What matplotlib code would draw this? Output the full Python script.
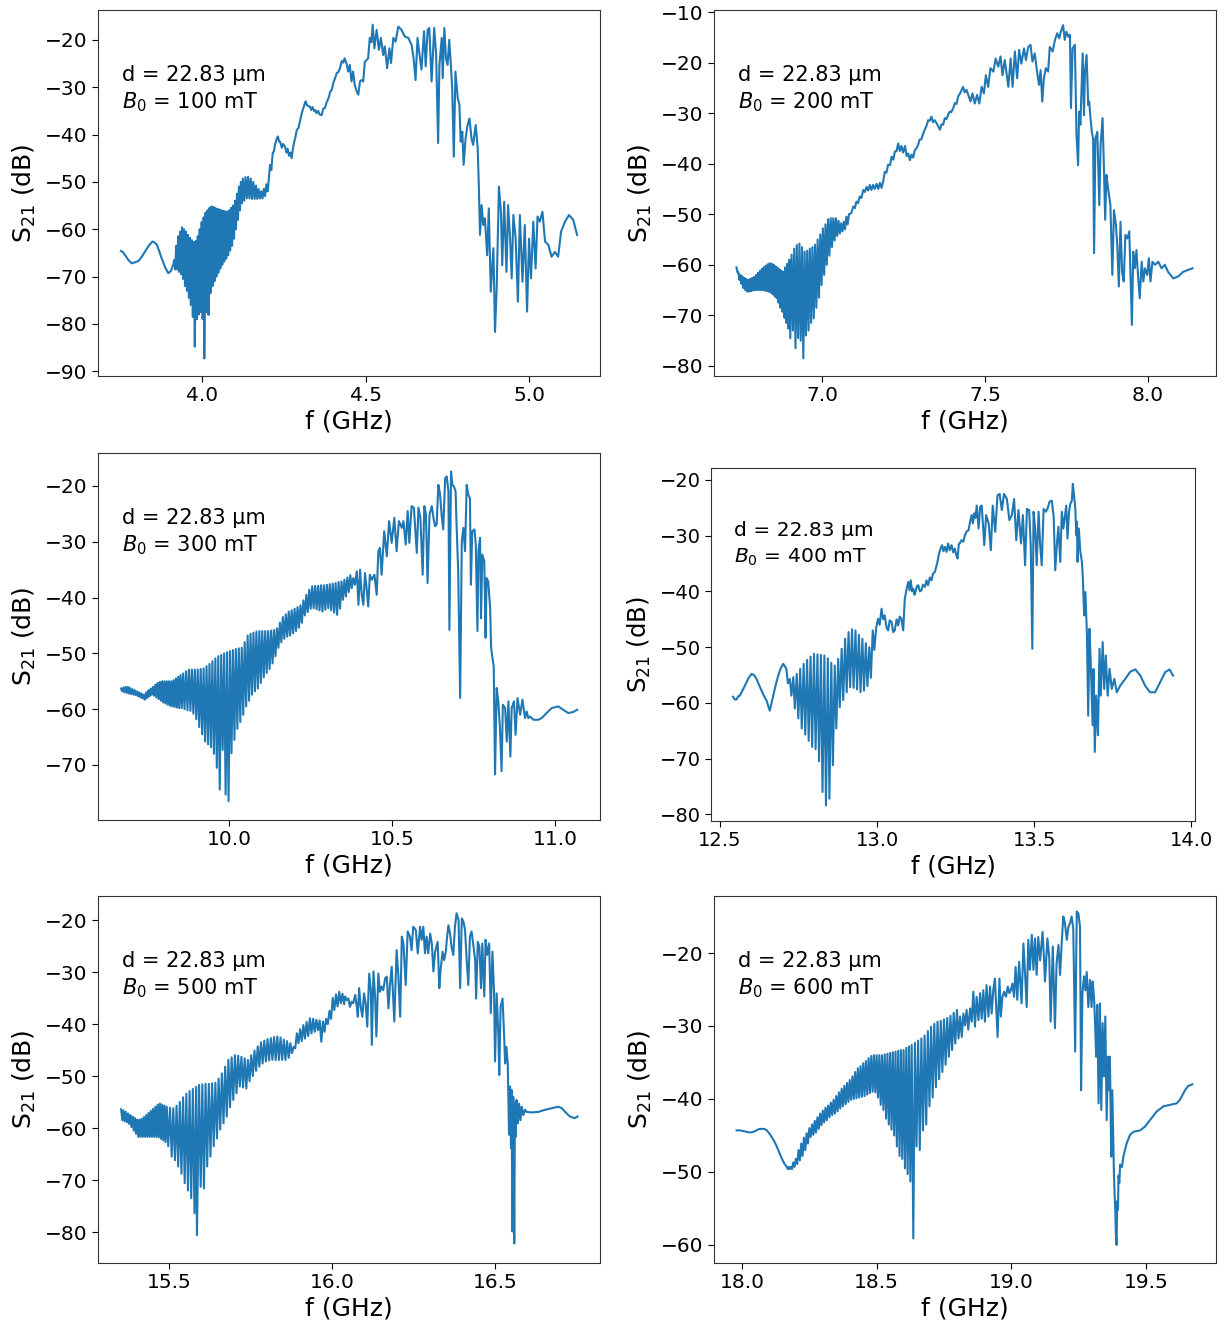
import matplotlib
matplotlib.use("Agg")
import matplotlib.pyplot as plt

# ---------------- data ----------------
fields_mT = [100, 200, 300, 400, 500, 600]
thickness_label = "d = 22.83 μm"

trace_100 = [
(3.752,-64.6),(3.758,-64.8),(3.765,-65.5),(3.775,-66.5),(3.785,-67.2),(3.795,-67.0),(3.806,-66.7),(3.816,-65.8),
(3.826,-64.7),(3.837,-63.5),(3.848,-62.6),(3.855,-62.8),(3.862,-63.3),(3.870,-64.8),(3.877,-66.2),(3.887,-68.0),
(3.897,-69.3),(3.905,-68.8),(3.912,-67.5),
(3.915,-66.5),(3.918,-68.5),(3.921,-63.5),(3.924,-68.5),(3.927,-61.5),(3.930,-69.0),(3.933,-60.5),(3.936,-69.5),
(3.939,-59.6),(3.942,-70.5),(3.945,-60.0),(3.948,-72.0),(3.951,-60.5),(3.954,-73.0),(3.957,-61.2),(3.960,-74.5),
(3.963,-61.8),(3.966,-76.0),(3.969,-62.3),(3.972,-78.5),(3.975,-62.7),(3.978,-84.8),(3.981,-62.5),(3.984,-79.0),
(3.987,-61.5),(3.990,-78.0),(3.993,-60.0),(3.996,-77.5),(3.999,-58.5),(4.002,-79.0),(4.005,-57.5),(4.007,-87.3),
(4.011,-56.5),(4.014,-77.5),(4.017,-56.0),(4.020,-78.1),(4.023,-55.5),(4.026,-73.5),(4.029,-55.2),(4.032,-72.0),
(4.035,-55.3),(4.038,-71.0),(4.041,-55.5),(4.044,-70.0),(4.047,-55.7),(4.050,-69.2),(4.053,-55.8),(4.056,-68.3),
(4.059,-56.0),(4.062,-67.5),(4.065,-56.1),(4.068,-66.8),(4.071,-56.2),(4.074,-66.2),(4.077,-56.3),(4.080,-65.5),
(4.083,-56.0),(4.086,-64.5),(4.089,-55.5),(4.092,-63.5),(4.095,-55.0),(4.098,-62.0),(4.101,-54.0),(4.104,-60.0),
(4.107,-52.5),(4.110,-58.0),(4.113,-51.0),(4.116,-56.0),(4.119,-50.0),(4.122,-54.5),
(4.125,-49.3),(4.129,-54.0),(4.133,-49.0),(4.137,-53.5),(4.141,-48.9),(4.145,-53.5),(4.149,-49.3),(4.153,-53.6),
(4.157,-50.0),(4.161,-53.6),(4.165,-50.8),(4.169,-53.6),(4.173,-51.5),(4.177,-53.5),(4.181,-52.0),(4.185,-53.5),
(4.189,-51.5),(4.193,-53.0),(4.197,-50.5),(4.201,-52.0),
(4.208,-46.4),(4.212,-47.5),(4.216,-44.0),(4.220,-43.5),(4.223,-42.2),(4.228,-41.0),(4.232,-40.4),(4.236,-41.5),
(4.239,-41.5),(4.244,-42.8),(4.248,-42.0),(4.254,-42.6),(4.258,-43.8),(4.262,-43.0),(4.266,-44.5),(4.270,-43.8),
(4.274,-45.0),(4.278,-43.0),(4.282,-41.5),(4.285,-40.8),(4.290,-39.0),(4.295,-38.6),(4.300,-37.0),(4.305,-35.5),
(4.310,-34.4),(4.314,-33.5),(4.317,-33.0),(4.321,-33.8),(4.325,-34.0),(4.330,-34.1),(4.334,-34.8),(4.338,-34.2),
(4.342,-35.0),(4.346,-34.8),(4.350,-35.5),(4.355,-35.0),(4.360,-35.8),(4.366,-35.9),(4.371,-34.5),(4.376,-34.4),
(4.381,-33.2),(4.387,-32.3),(4.392,-31.0),(4.397,-30.5),(4.402,-29.0),(4.407,-28.1),(4.412,-27.0),(4.417,-26.8),
(4.422,-26.0),(4.427,-24.5),(4.432,-24.8),(4.436,-23.9),
(4.442,-25.0),(4.447,-26.7),(4.452,-25.3),(4.457,-28.8),(4.462,-26.7),(4.467,-29.5),(4.473,-30.9),(4.478,-31.6),
(4.483,-28.8),(4.488,-28.5),(4.493,-28.8),(4.498,-24.6),(4.503,-24.3),(4.508,-23.9),(4.513,-19.6),(4.518,-20.5),
(4.522,-16.8),(4.527,-21.8),(4.534,-17.9),(4.541,-22.1),(4.547,-19.6),(4.554,-23.2),(4.559,-21.4),(4.566,-26.0),
(4.573,-21.8),(4.578,-24.9),(4.585,-19.6),(4.592,-20.4),(4.600,-17.2),(4.610,-17.9),(4.620,-19.3),(4.631,-19.6),
(4.641,-21.1),(4.647,-23.9),(4.653,-28.5),(4.659,-19.6),(4.664,-22.5),(4.671,-26.3),(4.679,-18.2),(4.684,-25.6),
(4.690,-17.9),(4.695,-17.5),(4.702,-28.8),(4.710,-17.5),(4.716,-23.2),(4.722,-41.8),(4.726,-25.3),(4.733,-19.6),
(4.736,-28.1),(4.741,-17.5),(4.746,-23.9),(4.751,-25.3),(4.756,-20.0),(4.761,-25.3),(4.765,-30.2),(4.770,-44.7),
(4.775,-26.7),(4.782,-32.3),(4.787,-33.7),(4.791,-41.5),(4.796,-39.4),(4.800,-46.4),(4.806,-40.8),(4.812,-38.0),
(4.818,-36.6),(4.824,-40.8),(4.829,-42.2),(4.837,-38.0),(4.843,-42.9),(4.847,-52.1),(4.850,-61.2),(4.855,-54.9),
(4.860,-59.1),(4.865,-57.7),(4.872,-65.5),(4.877,-55.6),(4.883,-73.2),(4.891,-64.0),(4.896,-81.7),(4.901,-72.5),
(4.908,-51.0),(4.914,-56.3),(4.918,-67.6),(4.924,-54.2),(4.931,-69.0),(4.936,-54.9),(4.942,-61.9),(4.947,-70.4),
(4.952,-57.0),(4.959,-61.9),(4.966,-75.3),(4.972,-57.0),(4.980,-71.1),(4.987,-59.1),(4.994,-77.4),(5.000,-62.0),
(5.006,-70.4),(5.013,-58.4),(5.020,-68.3),(5.026,-57.3),(5.033,-58.4),(5.041,-56.3),(5.049,-62.6),(5.059,-63.3),
(5.069,-65.8),(5.079,-64.8),(5.089,-65.8),(5.098,-60.5),(5.110,-58.4),(5.122,-57.0),(5.135,-58.0),(5.147,-61.2),
]

trace_200 = [
(6.738,-60.5),(6.741,-61.5),(6.744,-61.5),(6.747,-63.0),(6.750,-62.0),(6.753,-63.8),(6.756,-62.3),(6.759,-64.6),
(6.762,-62.6),(6.765,-65.0),(6.768,-62.8),(6.771,-65.3),(6.774,-63.0),(6.777,-65.3),(6.780,-62.8),(6.783,-65.2),
(6.786,-62.6),(6.789,-65.1),(6.792,-62.4),(6.795,-65.0),(6.798,-62.0),(6.801,-65.0),(6.804,-61.6),(6.807,-65.0),
(6.810,-61.2),(6.813,-65.0),(6.816,-60.8),(6.819,-65.0),(6.822,-60.5),(6.825,-65.1),(6.828,-60.2),(6.831,-65.2),
(6.834,-59.9),(6.837,-65.3),(6.840,-59.7),(6.843,-65.5),(6.846,-59.8),(6.849,-65.8),(6.852,-60.0),(6.855,-66.2),
(6.858,-60.3),(6.861,-66.6),(6.864,-60.6),(6.867,-67.5),(6.870,-60.9),(6.873,-68.5),(6.876,-61.2),(6.879,-69.3),
(6.882,-61.4),(6.885,-70.5),(6.888,-60.5),(6.891,-71.5),(6.894,-59.8),(6.897,-72.6),(6.900,-59.0),(6.903,-74.5),
(6.907,-58.0),(6.911,-73.0),(6.915,-56.8),(6.919,-76.5),(6.923,-56.1),(6.927,-74.5),(6.931,-55.8),(6.935,-75.0),
(6.939,-56.5),(6.943,-78.5),(6.947,-57.4),(6.951,-74.0),(6.955,-57.2),(6.959,-73.0),(6.963,-56.8),(6.967,-71.5),
(6.971,-56.5),(6.975,-70.6),(6.979,-56.0),(6.983,-68.5),(6.987,-55.0),(6.991,-66.5),(6.995,-54.0),(6.999,-64.0),
(7.003,-52.8),(7.007,-62.0),(7.011,-52.0),(7.015,-60.0),(7.019,-51.0),(7.023,-58.2),(7.027,-50.8),(7.031,-56.5),
(7.035,-50.8),(7.039,-55.2),(7.043,-50.8),(7.047,-54.3),(7.051,-51.3),(7.055,-53.8),(7.059,-51.8),(7.063,-53.4),
(7.067,-51.5),(7.071,-53.0),(7.075,-50.5),(7.079,-52.0),(7.083,-50.0),
(7.090,-49.8),(7.096,-48.5),(7.101,-48.8),(7.106,-47.5),(7.111,-47.8),(7.116,-46.5),(7.121,-46.8),(7.127,-45.2),
(7.132,-45.6),(7.137,-44.6),(7.142,-45.3),(7.147,-44.2),(7.152,-45.2),(7.157,-44.2),(7.162,-45.0),(7.168,-44.0),
(7.173,-45.0),(7.178,-43.8),(7.183,-44.8),(7.188,-43.5),(7.193,-41.6),(7.198,-41.8),(7.203,-40.2),(7.209,-40.3),
(7.214,-38.6),(7.219,-39.2),(7.224,-37.6),(7.229,-37.5),(7.234,-36.0),(7.239,-37.5),(7.244,-36.5),(7.249,-37.8),
(7.255,-36.5),(7.260,-38.5),(7.265,-38.0),(7.270,-39.3),(7.275,-38.2),(7.280,-38.8),(7.285,-37.3),(7.290,-37.0),
(7.295,-36.3),(7.300,-35.2),(7.305,-35.2),(7.311,-34.0),(7.316,-33.2),(7.321,-32.5),(7.326,-31.4),(7.331,-31.5),
(7.336,-30.7),(7.341,-31.8),(7.346,-31.4),(7.352,-32.0),(7.357,-32.6),(7.362,-33.3),(7.367,-32.2),(7.372,-32.3),
(7.377,-31.0),(7.382,-31.2),(7.387,-30.4),(7.392,-29.7),(7.397,-29.8),(7.403,-29.0),(7.408,-28.0),(7.413,-28.2),
(7.418,-26.7),(7.423,-26.2),(7.428,-25.5),(7.433,-24.8),(7.438,-25.9),(7.444,-25.4),(7.449,-26.4),(7.456,-27.7),
(7.462,-26.1),(7.469,-28.1),(7.476,-26.4),(7.483,-28.1),(7.490,-24.8),(7.497,-26.1),(7.503,-22.5),(7.510,-24.8),
(7.517,-21.1),(7.526,-21.8),(7.533,-19.2),(7.541,-20.8),(7.548,-18.8),(7.554,-22.5),(7.561,-19.5),(7.572,-24.8),
(7.579,-19.2),(7.585,-24.8),(7.592,-17.8),(7.599,-23.1),(7.605,-17.5),(7.612,-20.2),(7.620,-17.2),(7.626,-19.5),
(7.633,-16.9),(7.640,-16.5),(7.646,-19.8),(7.653,-18.2),(7.660,-21.8),(7.666,-24.4),(7.671,-21.5),(7.676,-27.7),
(7.681,-23.1),(7.687,-21.1),(7.694,-21.8),(7.699,-16.9),(7.708,-17.8),(7.715,-15.5),(7.722,-14.2),(7.728,-15.2),
(7.733,-13.9),(7.740,-12.6),(7.745,-15.5),(7.750,-13.9),(7.756,-14.9),(7.761,-14.5),(7.764,-29.0),(7.769,-17.2),
(7.776,-16.5),(7.781,-34.3),(7.786,-40.3),(7.789,-29.7),(7.793,-32.3),(7.800,-18.2),(7.804,-30.4),(7.807,-21.8),
(7.812,-18.5),(7.817,-28.4),(7.820,-27.7),(7.824,-31.0),(7.828,-33.7),(7.832,-35.0),(7.835,-57.7),(7.839,-35.0),
(7.845,-33.7),(7.851,-48.2),(7.855,-36.3),(7.861,-31.0),(7.865,-40.3),(7.869,-51.1),(7.873,-42.2),(7.878,-44.9),
(7.885,-48.2),(7.891,-62.0),(7.896,-49.2),(7.902,-52.1),(7.906,-56.1),(7.911,-64.3),(7.916,-51.5),(7.921,-61.4),
(7.926,-63.3),(7.931,-54.1),(7.937,-54.8),(7.943,-53.4),(7.947,-62.7),(7.951,-71.9),(7.955,-57.4),(7.960,-60.7),
(7.965,-57.1),(7.970,-62.3),(7.975,-66.6),(7.981,-59.4),(7.986,-63.3),(7.991,-60.7),(7.998,-62.0),(8.003,-58.7),
(8.008,-63.3),(8.014,-59.4),(8.022,-60.0),(8.032,-59.4),(8.042,-60.7),(8.052,-60.0),(8.062,-61.4),(8.078,-62.7),
(8.093,-62.3),(8.108,-61.4),(8.124,-61.0),(8.137,-60.7),
]

trace_300 = [
(9.669,-56.3),(9.672,-56.8),(9.676,-56.1),(9.679,-57.0),(9.683,-56.0),(9.686,-57.1),(9.690,-56.0),(9.693,-57.2),
(9.697,-56.2),(9.700,-57.3),(9.704,-56.4),(9.707,-57.4),(9.711,-56.6),(9.714,-57.5),(9.718,-56.8),(9.721,-57.7),
(9.725,-57.0),(9.728,-57.9),(9.732,-57.2),(9.735,-58.1),(9.739,-57.4),(9.742,-58.3),(9.746,-57.0),(9.749,-58.0),
(9.753,-56.6),(9.756,-57.7),(9.760,-56.3),(9.763,-57.4),(9.767,-56.0),(9.770,-57.6),(9.774,-55.6),(9.777,-57.9),
(9.781,-55.3),(9.784,-58.2),(9.788,-55.1),(9.791,-58.5),(9.795,-55.0),(9.798,-58.8),(9.802,-55.0),(9.805,-59.0),
(9.809,-55.0),(9.812,-59.2),(9.816,-55.0),(9.819,-59.4),(9.823,-55.0),(9.826,-59.5),(9.830,-54.8),(9.833,-59.6),
(9.837,-54.5),(9.840,-59.7),(9.844,-54.2),(9.847,-59.8),(9.851,-53.9),(9.855,-59.8),
(9.859,-53.6),(9.8635,-60.0),(9.868,-53.2),(9.8725,-60.2),(9.877,-52.9),(9.8815,-60.3),(9.886,-52.9),(9.8905,-60.8),
(9.895,-52.9),(9.8995,-61.8),(9.904,-52.9),(9.9085,-63.2),(9.913,-52.8),(9.9175,-64.5),(9.922,-52.7),(9.9265,-65.8),
(9.931,-52.3),(9.9355,-66.3),(9.940,-51.9),(9.9445,-66.8),(9.949,-51.4),(9.9535,-68.0),(9.958,-50.9),(9.9625,-70.5),
(9.967,-50.5),(9.9715,-74.4),(9.976,-50.3),(9.9805,-67.3),(9.985,-50.0),(9.9895,-75.3),(9.994,-49.8),(9.9985,-76.5),
(10.003,-49.6),(10.0075,-67.9),(10.012,-49.4),(10.0165,-65.5),(10.021,-49.2),(10.0255,-63.5),(10.030,-49.1),(10.0345,-62.3),
(10.039,-49.0),(10.0435,-61.0),(10.048,-48.0),(10.0525,-59.5),(10.057,-46.8),(10.0615,-58.5),(10.066,-46.5),(10.0705,-57.4),
(10.075,-46.3),(10.0795,-56.8),(10.084,-46.1),(10.0885,-56.3),(10.093,-46.0),(10.0975,-55.3),(10.102,-46.0),(10.1065,-54.3),
(10.111,-46.0),(10.1155,-53.5),(10.120,-46.0),(10.1245,-52.8),(10.129,-45.9),(10.1335,-51.8),(10.138,-45.8),(10.1425,-50.5),
(10.147,-45.5),(10.1515,-49.0),(10.156,-44.5),(10.1605,-48.0),(10.165,-43.5),(10.1695,-47.4),(10.174,-43.0),(10.1785,-47.0),
(10.183,-42.5),(10.1875,-46.8),(10.192,-42.3),(10.1965,-46.4),(10.201,-42.0),(10.2055,-46.0),(10.210,-41.7),(10.2145,-45.4),
(10.219,-41.4),(10.2235,-44.5),(10.228,-40.5),(10.2325,-43.2),(10.237,-39.5),(10.2415,-42.6),(10.246,-38.6),(10.2505,-42.0),
(10.255,-38.0),(10.2595,-41.9),(10.264,-37.9),(10.2685,-42.1),(10.273,-37.9),(10.2775,-42.3),(10.282,-37.8),(10.2865,-42.5),
(10.291,-37.8),(10.2955,-42.2),(10.300,-37.7),(10.3045,-41.9),(10.309,-37.6),(10.3135,-42.3),(10.318,-37.5),(10.3225,-42.7),
(10.327,-37.4),(10.3315,-43.1),(10.336,-37.2),(10.3405,-42.0),(10.345,-37.1),(10.3495,-40.4),(10.354,-36.8),(10.3585,-39.8),
(10.363,-36.4),(10.3675,-39.0),(10.372,-36.0),(10.3765,-38.3),
(10.381,-36.5),(10.386,-37.7),(10.392,-35.3),(10.397,-41.3),(10.402,-35.0),(10.407,-39.5),(10.412,-41.3),(10.417,-35.6),
(10.422,-38.3),(10.427,-41.6),(10.432,-35.9),(10.438,-36.8),(10.446,-35.9),(10.453,-39.5),(10.458,-31.7),(10.463,-31.1),
(10.468,-35.9),(10.476,-28.1),(10.484,-32.6),(10.491,-26.3),(10.499,-30.2),(10.507,-25.7),(10.514,-31.7),(10.521,-26.3),
(10.530,-27.5),(10.535,-26.3),(10.542,-30.5),(10.548,-24.5),(10.553,-30.2),(10.560,-23.6),(10.567,-23.9),(10.576,-32.0),
(10.581,-23.9),(10.587,-25.7),(10.594,-35.9),(10.599,-23.6),(10.604,-25.1),(10.609,-37.4),(10.615,-25.1),(10.622,-23.6),
(10.627,-25.7),(10.632,-27.2),(10.637,-26.9),(10.642,-19.8),(10.647,-21.3),(10.652,-25.1),(10.657,-27.8),(10.663,-18.6),
(10.668,-18.3),(10.673,-21.0),(10.676,-45.8),(10.681,-17.4),(10.685,-19.8),(10.690,-20.1),(10.695,-21.0),(10.698,-26.9),
(10.703,-35.3),(10.709,-58.0),(10.714,-29.9),(10.719,-27.5),(10.724,-31.7),(10.729,-19.8),(10.734,-21.6),(10.739,-22.2),
(10.742,-37.7),(10.746,-28.1),(10.753,-27.8),(10.757,-30.5),(10.762,-46.0),(10.765,-31.7),(10.770,-29.3),(10.773,-43.7),
(10.777,-32.3),(10.783,-33.5),(10.787,-47.2),(10.790,-36.5),(10.795,-37.1),(10.801,-41.9),(10.804,-49.0),(10.808,-50.8),
(10.812,-52.3),(10.816,-71.7),(10.821,-56.2),(10.826,-58.6),(10.831,-63.4),(10.836,-71.1),(10.840,-59.2),(10.847,-59.8),
(10.852,-65.8),(10.857,-58.6),(10.863,-68.5),(10.867,-59.8),(10.874,-58.6),(10.879,-64.6),(10.885,-58.0),(10.893,-61.0),
(10.900,-58.3),(10.908,-61.6),(10.913,-60.4),(10.918,-61.6),(10.923,-61.3),(10.934,-61.9),(10.949,-61.9),(10.959,-61.6),
(10.974,-60.7),(10.990,-59.8),(11.010,-59.5),(11.025,-60.1),(11.041,-60.7),(11.056,-60.5),(11.068,-60.1),
]

trace_400 = [
(12.541,-58.9),(12.547,-59.4),(12.552,-59.4),(12.558,-58.8),(12.563,-58.7),(12.571,-57.8),(12.579,-56.9),(12.590,-55.6),
(12.600,-54.8),(12.608,-55.0),(12.616,-55.7),(12.624,-56.8),(12.632,-57.8),(12.640,-58.8),(12.648,-59.6),(12.653,-60.5),
(12.658,-61.4),(12.663,-60.2),(12.669,-58.7),(12.677,-56.8),(12.685,-55.1),(12.693,-53.8),(12.701,-53.0),(12.706,-53.4),
(12.711,-53.9),(12.716,-56.5),(12.722,-55.7),(12.727,-58.7),(12.733,-55.4),(12.738,-61.0),(12.744,-54.8),(12.749,-62.8),
(12.755,-53.9),(12.760,-64.6),(12.766,-53.0),(12.771,-65.7),(12.777,-52.3),(12.782,-66.8),(12.788,-51.7),(12.793,-67.9),
(12.799,-51.2),(12.804,-68.3),(12.810,-51.3),(12.815,-70.5),(12.821,-51.4),(12.826,-76.0),(12.832,-51.5),(12.837,-78.4),
(12.843,-52.0),(12.848,-77.2),(12.854,-52.8),(12.859,-71.2),(12.865,-53.3),(12.870,-64.6),(12.876,-52.1),(12.881,-60.8),
(12.887,-50.3),(12.892,-59.5),(12.898,-48.5),(12.903,-58.1),(12.909,-47.3),(12.914,-57.2),(12.920,-46.8),(12.925,-57.3),
(12.931,-47.0),(12.936,-57.6),(12.942,-47.8),(12.947,-58.1),(12.953,-48.5),(12.958,-57.8),(12.964,-49.3),(12.969,-57.0),
(12.975,-50.0),(12.980,-55.5),(12.986,-47.0),(12.991,-50.5),(12.997,-46.5),
(13.003,-44.9),(13.008,-46.0),(13.014,-43.1),(13.019,-45.0),(13.024,-44.3),(13.030,-46.5),(13.035,-47.0),(13.040,-45.2),
(13.046,-45.5),(13.051,-47.3),(13.056,-47.0),(13.062,-45.0),(13.067,-46.1),(13.072,-44.5),(13.077,-44.9),(13.083,-47.0),
(13.088,-41.3),(13.094,-39.5),(13.099,-38.3),(13.103,-39.8),(13.107,-38.0),(13.111,-40.0),(13.115,-39.5),(13.119,-40.6),
(13.122,-40.1),(13.127,-39.0),(13.131,-38.9),(13.136,-40.0),(13.141,-39.8),(13.146,-38.8),(13.152,-39.2),(13.157,-38.0),
(13.162,-38.9),(13.168,-37.5),(13.173,-38.0),(13.178,-36.8),(13.184,-36.5),(13.188,-35.6),(13.192,-34.7),(13.196,-33.5),
(13.200,-32.6),(13.204,-32.0),(13.207,-31.7),(13.211,-32.8),(13.216,-32.0),(13.221,-32.9),(13.226,-31.4),(13.231,-32.6),
(13.237,-31.7),(13.242,-33.0),(13.247,-32.3),(13.252,-33.5),(13.256,-34.1),(13.260,-31.5),(13.263,-31.4),(13.268,-30.8),
(13.274,-31.1),(13.279,-30.0),(13.284,-29.3),
(13.291,-29.0),(13.296,-27.5),(13.301,-26.3),(13.305,-27.8),(13.309,-26.0),(13.313,-26.8),(13.317,-24.6),(13.323,-28.7),
(13.328,-24.8),(13.333,-24.6),(13.341,-31.7),(13.347,-26.3),(13.355,-27.8),(13.362,-32.6),(13.368,-24.6),(13.376,-29.3),
(13.383,-22.8),(13.390,-22.5),(13.397,-25.4),(13.404,-22.5),(13.413,-23.4),(13.421,-27.2),(13.429,-26.3),(13.436,-23.4),
(13.443,-30.8),(13.450,-25.4),(13.458,-31.4),(13.464,-26.3),(13.471,-35.3),(13.477,-25.2),(13.484,-25.4),(13.489,-31.7),
(13.494,-50.3),(13.498,-25.7),(13.503,-28.7),(13.508,-35.3),(13.514,-25.7),(13.519,-31.7),(13.524,-35.3),(13.530,-25.2),
(13.537,-25.7),(13.542,-25.2),(13.549,-23.9),(13.556,-23.7),(13.562,-26.6),(13.567,-36.2),(13.572,-31.7),(13.577,-28.4),
(13.583,-34.7),(13.588,-25.7),(13.593,-28.7),(13.602,-24.6),(13.606,-30.5),(13.611,-25.7),(13.615,-24.3),(13.620,-23.7),
(13.623,-20.7),(13.627,-22.8),(13.631,-25.2),(13.634,-29.9),(13.636,-27.5),(13.638,-34.7),(13.642,-28.7),(13.647,-32.9),
(13.652,-34.7),(13.655,-37.7),(13.659,-44.3),(13.663,-40.1),(13.668,-47.9),(13.672,-62.3),(13.676,-46.7),(13.680,-52.7),
(13.686,-64.0),(13.689,-53.9),(13.693,-68.8),(13.697,-58.7),(13.703,-65.8),(13.708,-50.3),(13.712,-58.7),(13.718,-49.1),
(13.723,-57.5),(13.728,-51.5),(13.734,-58.7),(13.740,-53.9),(13.747,-57.5),(13.755,-55.7),(13.763,-58.1),(13.774,-56.9),
(13.790,-55.7),(13.806,-54.4),(13.822,-54.0),(13.838,-55.1),(13.853,-56.9),(13.869,-58.1),(13.885,-58.1),(13.901,-56.3),
(13.917,-54.5),(13.931,-54.0),(13.942,-55.1),
]

trace_500 = [
(15.353,-56.4),(15.3565,-58.5),(15.360,-56.6),(15.3635,-58.7),(15.367,-56.9),(15.3705,-58.9),(15.374,-57.2),(15.3775,-59.2),
(15.381,-57.5),(15.3845,-59.8),(15.388,-57.8),(15.3915,-60.5),(15.395,-58.1),(15.3985,-61.1),(15.402,-58.4),(15.4055,-61.7),
(15.409,-58.4),(15.4125,-61.7),(15.416,-58.2),(15.4195,-61.7),(15.423,-57.9),(15.4265,-61.7),(15.430,-57.5),(15.4335,-61.7),
(15.437,-57.1),(15.4405,-61.7),(15.444,-56.7),(15.4475,-61.7),(15.451,-56.3),(15.4545,-61.7),(15.458,-55.9),(15.4615,-61.7),
(15.465,-55.5),(15.4685,-61.8),(15.472,-55.3),(15.4755,-62.1),(15.479,-55.5),(15.4825,-62.4),(15.486,-55.7),(15.4895,-62.7),
(15.493,-55.9),(15.4975,-63.5),(15.503,-56.1),(15.508,-65.5),(15.513,-56.2),(15.518,-66.2),(15.523,-55.7),(15.528,-67.4),
(15.533,-55.0),(15.538,-68.8),(15.543,-54.1),(15.548,-70.6),(15.553,-53.4),(15.558,-72.0),(15.563,-52.9),(15.568,-73.5),
(15.573,-52.5),(15.578,-76.4),(15.583,-52.1),(15.5855,-80.6),(15.592,-51.7),(15.597,-71.3),(15.602,-51.6),(15.607,-71.6),
(15.612,-51.5),(15.617,-67.4),(15.622,-51.5),(15.627,-65.5),(15.632,-51.4),(15.637,-63.5),(15.642,-51.3),(15.647,-62.0),
(15.652,-50.5),(15.657,-60.3),(15.662,-49.5),(15.667,-59.1),(15.672,-48.2),(15.677,-57.8),(15.682,-46.9),(15.687,-56.0),
(15.692,-46.4),(15.697,-54.6),(15.702,-46.0),(15.707,-53.3),(15.712,-46.1),(15.717,-52.0),(15.722,-46.3),(15.727,-52.2),
(15.732,-46.6),(15.737,-52.4),(15.742,-46.9),(15.747,-51.0),(15.752,-46.0),(15.757,-50.0),(15.762,-45.1),(15.767,-49.0),
(15.772,-44.3),(15.777,-48.2),(15.782,-43.5),(15.787,-47.6),(15.792,-43.2),(15.797,-47.2),(15.802,-42.9),(15.807,-47.0),
(15.812,-42.7),(15.817,-46.9),(15.822,-42.5),(15.827,-46.9),(15.832,-42.4),(15.837,-46.9),(15.842,-42.6),(15.847,-46.9),
(15.852,-43.0),(15.857,-46.9),(15.862,-43.3),(15.867,-46.5),(15.872,-43.7),(15.877,-45.6),(15.882,-44.4),(15.887,-44.7),
(15.892,-41.8),(15.897,-43.7),(15.902,-41.0),(15.907,-43.3),(15.912,-40.2),(15.917,-42.8),(15.922,-39.6),(15.927,-42.3),
(15.932,-38.9),(15.937,-41.8),(15.942,-39.0),(15.947,-41.5),(15.952,-39.2),(15.957,-41.2),(15.962,-39.3),(15.967,-43.4),
(15.972,-39.5),(15.977,-41.5),(15.982,-39.0),(15.987,-40.0),(15.992,-37.5),(15.997,-39.0),(16.002,-35.0),(16.007,-37.3),
(16.012,-34.3),(16.017,-36.6),(16.022,-33.8),(16.027,-36.0),(16.032,-34.2),(16.037,-36.2),
(16.040,-34.7),(16.045,-35.4),(16.050,-35.1),(16.055,-36.7),(16.060,-35.7),(16.065,-36.0),(16.071,-34.4),(16.076,-36.7),
(16.079,-38.6),(16.083,-33.1),(16.088,-36.7),(16.093,-38.6),(16.098,-34.1),(16.103,-36.0),(16.108,-40.5),(16.114,-30.3),
(16.119,-33.5),(16.122,-44.0),(16.127,-29.9),(16.132,-34.7),(16.136,-42.4),(16.142,-30.3),(16.147,-33.8),(16.152,-32.8),
(16.157,-33.5),(16.163,-31.2),(16.168,-30.9),(16.173,-37.0),(16.178,-32.2),(16.183,-29.0),(16.188,-35.4),(16.191,-39.5),
(16.198,-25.8),(16.203,-30.3),(16.209,-38.6),(16.214,-23.2),(16.219,-24.5),(16.226,-32.5),(16.232,-22.2),(16.239,-23.2),
(16.244,-25.8),(16.249,-21.3),(16.257,-21.9),(16.263,-26.4),(16.270,-21.3),(16.275,-23.8),(16.280,-21.3),(16.285,-26.4),
(16.290,-23.2),(16.295,-26.4),(16.301,-22.6),(16.306,-24.5),(16.311,-29.9),(16.316,-26.1),(16.324,-24.2),(16.329,-33.1),
(16.333,-29.6),(16.339,-26.1),(16.344,-27.7),(16.349,-26.1),(16.352,-23.8),(16.357,-21.0),(16.362,-22.6),(16.367,-25.4),
(16.372,-26.7),(16.377,-21.3),(16.382,-18.7),(16.388,-20.0),(16.393,-33.1),(16.398,-19.7),(16.403,-20.3),(16.408,-21.9),
(16.413,-27.7),(16.418,-32.5),(16.423,-23.2),(16.428,-22.2),(16.434,-25.1),(16.439,-27.7),(16.442,-35.1),(16.447,-24.2),
(16.452,-25.1),(16.457,-33.1),(16.461,-24.5),(16.467,-34.7),(16.471,-23.8),(16.476,-26.7),(16.482,-24.5),(16.487,-37.9),
(16.492,-26.1),(16.497,-33.8),(16.500,-47.2),(16.505,-34.1),(16.510,-41.8),(16.513,-49.8),(16.517,-36.7),(16.523,-35.1),
(16.528,-42.4),(16.531,-47.6),(16.535,-44.4),(16.539,-47.6),(16.543,-61.3),(16.546,-52.0),(16.549,-63.9),(16.551,-52.7),
(16.553,-79.9),(16.556,-54.0),(16.559,-82.2),(16.561,-55.3),(16.563,-61.7),(16.566,-54.6),(16.570,-59.1),(16.574,-55.3),
(16.578,-58.5),(16.582,-55.9),(16.587,-57.5),(16.592,-56.5),(16.597,-56.9),(16.613,-57.0),(16.633,-56.9),(16.653,-56.5),
(16.674,-56.2),(16.694,-55.9),(16.705,-56.2),(16.715,-56.9),(16.730,-57.8),(16.745,-58.1),(16.753,-57.8),
]

trace_600 = [
(17.980,-44.3),(17.993,-44.3),(18.005,-44.4),(18.018,-44.5),(18.030,-44.6),(18.042,-44.5),(18.054,-44.3),(18.064,-44.1),
(18.073,-44.1),(18.083,-44.1),(18.092,-44.3),(18.101,-44.7),(18.110,-45.2),(18.120,-45.8),(18.129,-46.5),(18.138,-47.3),
(18.147,-48.1),(18.155,-48.7),(18.160,-49.0),(18.166,-49.3),(18.170,-49.6),(18.174,-49.3),(18.178,-49.6),(18.182,-49.3),
(18.186,-49.6),
(18.190,-48.7),(18.195,-49.3),(18.200,-48.2),(18.205,-48.9),(18.210,-47.0),(18.215,-48.4),(18.220,-46.1),(18.225,-47.8),
(18.230,-45.3),(18.235,-47.0),(18.240,-44.7),(18.245,-46.1),(18.250,-44.0),(18.255,-45.2),(18.260,-43.5),(18.265,-44.9),
(18.270,-43.0),(18.275,-44.6),(18.280,-42.5),(18.285,-44.1),(18.290,-42.0),(18.295,-43.6),(18.300,-41.6),(18.305,-43.2),
(18.310,-41.2),(18.315,-42.9),(18.320,-40.9),(18.325,-42.5),(18.330,-40.5),(18.335,-42.2),(18.340,-40.1),(18.345,-42.0),
(18.350,-39.6),(18.355,-41.7),(18.360,-39.1),(18.365,-41.3),(18.370,-38.6),(18.375,-41.0),(18.380,-38.2),(18.385,-40.7),
(18.390,-37.8),(18.395,-40.4),(18.400,-37.4),(18.405,-40.1),(18.410,-36.9),(18.415,-40.0),(18.420,-36.3),(18.425,-39.9),
(18.430,-35.8),(18.435,-39.8),(18.440,-35.5),(18.445,-39.7),(18.450,-35.1),(18.455,-39.6),(18.460,-34.8),(18.465,-39.4),
(18.470,-34.4),(18.475,-39.2),(18.480,-34.1),(18.485,-39.0),(18.490,-34.0),(18.495,-39.1),(18.500,-34.0),(18.505,-39.8),
(18.510,-34.0),(18.515,-40.8),(18.520,-34.0),(18.525,-41.5),(18.530,-33.9),(18.535,-42.7),(18.540,-33.8),(18.545,-43.5),
(18.550,-33.7),(18.555,-44.2),(18.560,-33.6),(18.565,-45.0),(18.570,-33.5),(18.575,-46.5),(18.580,-33.4),(18.585,-47.8),
(18.590,-33.3),(18.595,-48.2),(18.600,-33.3),(18.605,-49.5),(18.610,-33.0),(18.615,-50.3),(18.620,-32.8),(18.625,-51.3),
(18.630,-32.6),(18.636,-59.1),(18.642,-32.3),(18.648,-46.5),(18.654,-32.0),(18.660,-47.0),(18.666,-31.7),(18.672,-44.3),
(18.678,-31.3),(18.684,-43.5),(18.690,-30.7),(18.696,-41.0),(18.702,-30.1),(18.708,-39.8),(18.714,-29.7),(18.720,-38.4),
(18.726,-29.4),(18.732,-37.3),(18.738,-29.3),(18.744,-36.3),(18.750,-29.1),(18.756,-35.3),(18.762,-28.9),(18.768,-34.2),
(18.774,-28.6),(18.780,-33.3),(18.786,-28.2),(18.792,-32.4),(18.798,-27.8),(18.804,-31.7),(18.810,-28.7),(18.816,-31.5),
(18.822,-28.3),(18.828,-29.9),(18.834,-27.8),(18.840,-30.5),(18.847,-27.6),(18.853,-29.4),(18.859,-25.3),(18.865,-30.1),
(18.871,-26.0),(18.878,-29.2),(18.884,-25.5),(18.890,-29.0),(18.896,-25.1),(18.902,-29.4),(18.908,-24.4),(18.915,-28.7),
(18.921,-24.6),(18.927,-28.3),(18.933,-25.1),(18.939,-23.5),(18.946,-29.2),(18.949,-31.5),(18.956,-23.5),(18.961,-28.7),
(18.967,-26.0),(18.973,-25.3),(18.980,-26.0),(18.987,-24.6),(18.993,-25.5),(18.998,-25.1),(19.004,-24.2),(19.010,-26.0),
(19.016,-21.9),(19.022,-26.4),(19.029,-21.2),(19.035,-25.1),(19.038,-26.9),(19.045,-18.7),(19.051,-22.8),(19.057,-27.4),
(19.063,-18.2),(19.069,-22.3),(19.076,-17.5),(19.082,-22.3),(19.088,-18.0),(19.094,-23.0),(19.100,-17.8),(19.107,-21.0),
(19.116,-17.1),(19.121,-20.5),(19.125,-23.9),(19.134,-18.0),(19.141,-20.7),(19.146,-29.4),(19.154,-19.1),(19.162,-30.3),
(19.168,-21.4),(19.175,-18.9),(19.181,-23.0),(19.187,-18.7),(19.193,-15.0),(19.199,-15.9),(19.206,-18.2),(19.212,-16.4),
(19.218,-15.9),(19.224,-15.0),(19.230,-16.6),(19.237,-33.5),(19.243,-14.3),(19.249,-14.6),(19.255,-16.4),(19.259,-38.8),
(19.264,-25.5),(19.270,-23.2),(19.275,-25.1),(19.280,-22.6),(19.286,-27.4),(19.292,-23.7),(19.298,-27.4),(19.302,-23.9),
(19.307,-26.0),(19.311,-29.6),(19.315,-34.2),(19.319,-27.1),(19.324,-40.6),(19.329,-26.9),(19.334,-41.5),(19.339,-29.6),
(19.344,-36.9),(19.349,-28.7),(19.354,-42.9),(19.359,-34.2),(19.364,-38.8),(19.366,-34.2),(19.371,-47.9),(19.375,-38.8),
(19.381,-50.2),(19.383,-52.5),(19.386,-55.2),(19.388,-58.5),(19.391,-60.0),(19.393,-54.0),(19.396,-55.2),(19.398,-50.5),
(19.401,-51.5),(19.404,-49.0),(19.406,-49.3),(19.411,-49.3),(19.416,-47.9),(19.428,-46.1),(19.441,-44.9),(19.453,-44.5),
(19.478,-44.3),(19.496,-43.8),(19.515,-42.9),(19.540,-41.7),(19.565,-41.0),(19.589,-40.8),(19.614,-40.6),(19.626,-40.1),
(19.645,-38.8),(19.657,-38.2),(19.672,-38.0),
]

traces = [trace_100, trace_200, trace_300, trace_400, trace_500, trace_600]

x_ticks = [[4.0, 4.5, 5.0], [7.0, 7.5, 8.0], [10.0, 10.5, 11.0],
           [12.5, 13.0, 13.5, 14.0], [15.5, 16.0, 16.5], [18.0, 18.5, 19.0, 19.5]]
y_ticks = [list(range(-90, -19, 10)), list(range(-80, -9, 10)), list(range(-70, -19, 10)),
           list(range(-80, -19, 10)), list(range(-80, -19, 10)), list(range(-60, -19, 10))]
x_lims = [(3.682, 5.217), (6.669, 8.209), (9.598, 11.138),
          (12.471, 14.012), (15.282, 16.822), (17.896, 19.760)]
y_lims = [(-91.0, -13.7), (-82.0, -9.6), (-79.86, -14.09),
          (-81.2, -17.85), (-85.96, -15.38), (-62.47, -12.19)]

# ---------------- layout (pixel boxes: left, top, right, bottom) ----------------
W, H = 1228, 1324
boxes = [(98, 10, 600, 376), (714, 10, 1216, 376),
         (98, 453, 600, 820), (711, 468, 1195, 821),
         (98, 896, 600, 1263), (714, 896, 1216, 1263)]

fig = plt.figure(figsize=(W / 100, H / 100), dpi=100)
plt.rcParams['font.family'] = ['DejaVu Sans']

for i, (trace, box) in enumerate(zip(traces, boxes)):
    l, t, r, b = box
    ax = fig.add_axes([l / W, 1 - b / H, (r - l) / W, (b - t) / H])
    f = [p[0] for p in trace]
    s = [p[1] for p in trace]
    ax.plot(f, s, color='#1f77b4', lw=1.5)
    ax.set_xlim(*x_lims[i])
    ax.set_ylim(*y_lims[i])
    ax.set_xticks(x_ticks[i])
    ax.set_yticks(y_ticks[i])
    sc = 0.97 if i == 3 else 1.0
    ax.tick_params(labelsize=14.5 * sc, length=4)
    ax.set_xlabel('f (GHz)', fontsize=18 * sc, labelpad=3)
    ax.set_ylabel('S$_{21}$ (dB)', fontsize=18 * sc, labelpad=5)
    for sp in ax.spines.values():
        sp.set_color('#333333')
    ax.text(0.048, 0.806, thickness_label, transform=ax.transAxes,
            fontsize=15 * sc, va='baseline', ha='left')
    ax.text(0.048, 0.732, '$B_0$ = %d mT' % fields_mT[i], transform=ax.transAxes,
            fontsize=15 * sc, va='baseline', ha='left')

fig.savefig('out.png', dpi=100)
